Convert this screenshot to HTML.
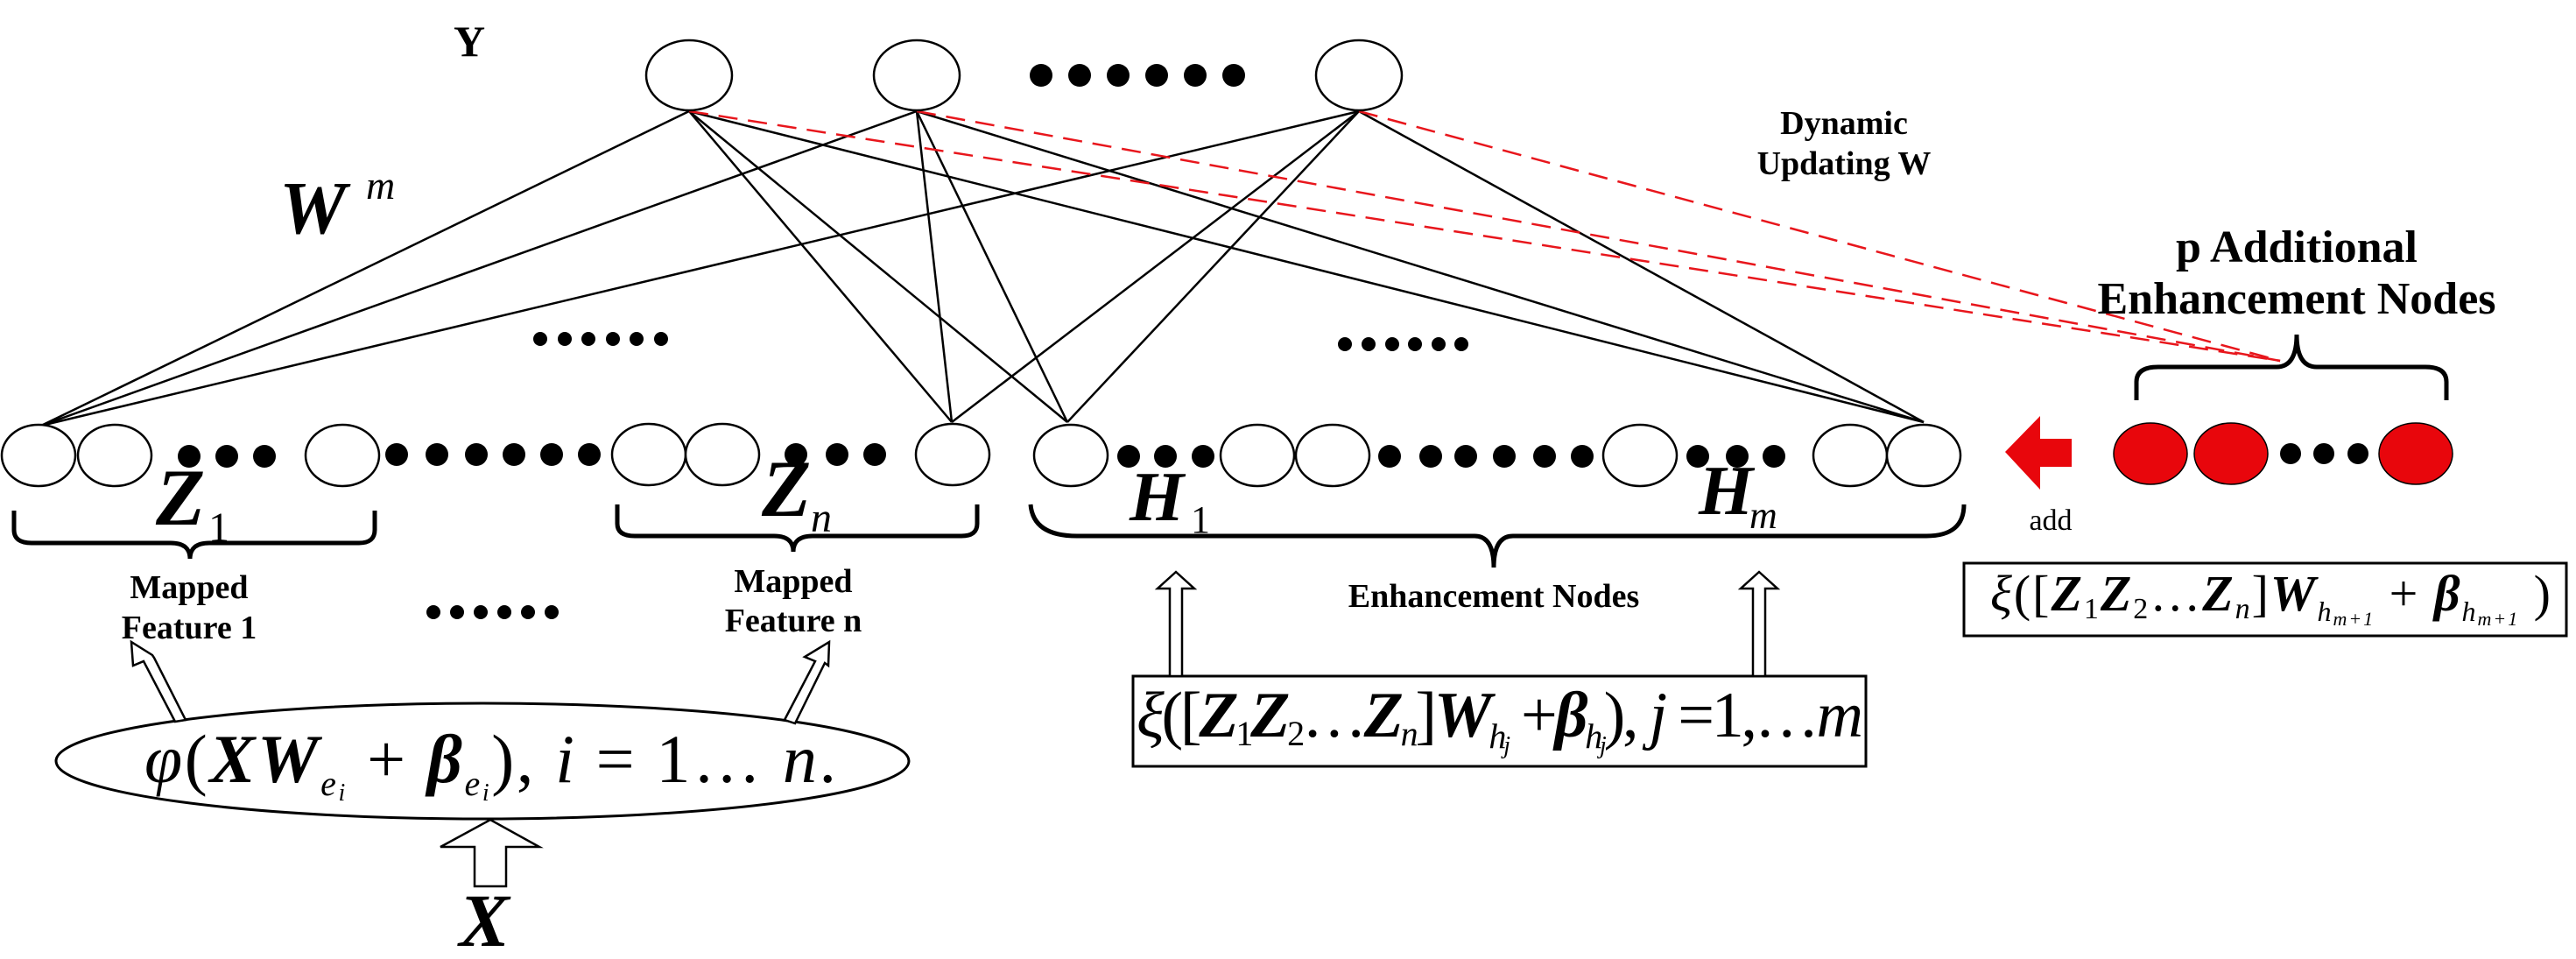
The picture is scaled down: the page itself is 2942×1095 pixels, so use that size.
<!DOCTYPE html>
<html><head><meta charset="utf-8"><style>
html,body{margin:0;padding:0;background:#fff;overflow:hidden}
svg{display:block}
text{font-family:"Liberation Serif",serif}
</style></head><body>
<svg width="2942" height="1095" viewBox="0 0 2942 1095" xmlns="http://www.w3.org/2000/svg">
<g stroke="#000" stroke-width="2.5" fill="none">
<line x1="787" y1="127" x2="47" y2="486"/>
<line x1="787" y1="127" x2="1087" y2="482"/>
<line x1="787" y1="127" x2="1219" y2="482"/>
<line x1="787" y1="127" x2="2197" y2="482"/>
<line x1="1047" y1="127" x2="47" y2="486"/>
<line x1="1047" y1="127" x2="1087" y2="482"/>
<line x1="1047" y1="127" x2="1219" y2="482"/>
<line x1="1047" y1="127" x2="2197" y2="482"/>
<line x1="1552" y1="127" x2="47" y2="486"/>
<line x1="1552" y1="127" x2="1087" y2="482"/>
<line x1="1552" y1="127" x2="1219" y2="482"/>
<line x1="1552" y1="127" x2="2197" y2="482"/>
</g>
<g stroke="#e8161c" stroke-width="2.5" fill="none" stroke-dasharray="22,12">
<line x1="787" y1="127" x2="2604" y2="412"/>
<line x1="1047" y1="127" x2="2604" y2="412"/>
<line x1="1552" y1="127" x2="2604" y2="412"/>
</g>
<g stroke="#000" stroke-width="2.5" fill="#fff">
<ellipse cx="787" cy="86" rx="49" ry="40"/>
<ellipse cx="1047" cy="86" rx="49" ry="40"/>
<ellipse cx="1552" cy="86" rx="49" ry="40"/>
</g>
<g fill="#000">
<circle cx="1189" cy="86" r="13"/><circle cx="1233" cy="86" r="13"/><circle cx="1277" cy="86" r="13"/><circle cx="1321" cy="86" r="13"/><circle cx="1365" cy="86" r="13"/><circle cx="1409" cy="86" r="13"/>
</g>
<g stroke="#000" stroke-width="2.5" fill="#fff">
<ellipse cx="44" cy="520" rx="42" ry="35"/>
<ellipse cx="131" cy="520" rx="42" ry="35"/>
<ellipse cx="391" cy="520" rx="42" ry="35"/>
<ellipse cx="741" cy="519" rx="42" ry="35"/>
<ellipse cx="825" cy="519" rx="42" ry="35"/>
<ellipse cx="1088" cy="519" rx="42" ry="35"/>
<ellipse cx="1223" cy="520" rx="42" ry="35"/>
<ellipse cx="1436" cy="520" rx="42" ry="35"/>
<ellipse cx="1522" cy="520" rx="42" ry="35"/>
<ellipse cx="1873" cy="520" rx="42" ry="35"/>
<ellipse cx="2113" cy="520" rx="42" ry="35"/>
<ellipse cx="2197" cy="520" rx="42" ry="35"/>
</g>
<g fill="#000">
<circle cx="216" cy="521" r="13"/><circle cx="259" cy="521" r="13"/><circle cx="302" cy="521" r="13"/>
<circle cx="453" cy="519" r="13"/><circle cx="499" cy="519" r="13"/><circle cx="544" cy="519" r="13"/><circle cx="587" cy="519" r="13"/><circle cx="630" cy="519" r="13"/><circle cx="673" cy="519" r="13"/>
<circle cx="909" cy="519" r="13"/><circle cx="956" cy="519" r="13"/><circle cx="999" cy="519" r="13"/>
<circle cx="1289" cy="521" r="13"/><circle cx="1331" cy="521" r="13"/><circle cx="1374" cy="521" r="13"/>
<circle cx="1587" cy="521" r="13"/><circle cx="1634" cy="521" r="13"/><circle cx="1674" cy="521" r="13"/><circle cx="1718" cy="521" r="13"/><circle cx="1764" cy="521" r="13"/><circle cx="1807" cy="521" r="13"/>
<circle cx="1939" cy="521" r="13"/><circle cx="1984" cy="521" r="13"/><circle cx="2026" cy="521" r="13"/>
<circle cx="617" cy="387" r="8"/><circle cx="645" cy="387" r="8"/><circle cx="672" cy="387" r="8"/><circle cx="700" cy="387" r="8"/><circle cx="727" cy="387" r="8"/><circle cx="755" cy="387" r="8"/>
<circle cx="1536" cy="393" r="8"/><circle cx="1563" cy="393" r="8"/><circle cx="1590" cy="393" r="8"/><circle cx="1616" cy="393" r="8"/><circle cx="1643" cy="393" r="8"/><circle cx="1669" cy="393" r="8"/>
<circle cx="495" cy="699" r="8"/><circle cx="522" cy="699" r="8"/><circle cx="549" cy="699" r="8"/><circle cx="576" cy="699" r="8"/><circle cx="603" cy="699" r="8"/><circle cx="630" cy="699" r="8"/>
</g>
<g fill="#e8060c" stroke="#000" stroke-width="1.5">
<ellipse cx="2456" cy="518" rx="42" ry="35"/>
<ellipse cx="2548" cy="518" rx="42" ry="35"/>
<ellipse cx="2759" cy="518" rx="42" ry="35"/>
</g>
<g fill="#000"><circle cx="2616" cy="518" r="12"/><circle cx="2654" cy="518" r="12"/><circle cx="2693" cy="518" r="12"/></g>
<polygon points="2290,516 2330,475 2330,501 2366,501 2366,533 2330,533 2330,559" fill="#e8060c"/>
<g stroke="#000" stroke-width="5" fill="none">
<path d="M16,583 V605 Q16,620 36,620 H195 Q217,620 217,638 Q217,620 239,620 H410 Q428,620 428,605 V583"/>
<path d="M705,576 V598 Q705,612 725,612 H884 Q906,612 906,630 Q906,612 928,612 H1098 Q1116,612 1116,598 V576"/>
<path d="M1177,576 Q1180,612 1230,612 H1684 Q1706,612 1706,648 Q1706,612 1728,612 H2200 Q2243,612 2243,576"/>
<path d="M2440,457 V436 Q2440,419 2465,419 H2600 Q2623,419 2623,382 Q2623,419 2646,419 H2770 Q2794,419 2794,436 V457"/>
</g>
<g stroke="#000" stroke-width="3" fill="none">
<rect x="1294" y="772" width="837" height="103"/>
<rect x="2243" y="643" width="688" height="83"/>
<ellipse cx="551" cy="869" rx="487" ry="66"/>
</g>
<g stroke="#000" stroke-width="2.5" fill="#fff">
<polygon points="1336,772 1336,672 1322,672 1343,653 1364,672 1350,672 1350,772"/>
<polygon points="2002,772 2002,672 1988,672 2009,653 2030,672 2016,672 2016,772"/>
<polygon points="542,1012 542,967 503,967 560,936 616,967 578,967 578,1012"/>
<polygon points="200,824 164,755 152,760 150,733 174,748 176,751 212,822"/>
<polygon points="896,822 931,755 919,750 947,733 946,760 942,757 908,826"/>
</g>
<g font-weight="bold" fill="#000">
<text x="536" y="64" font-size="50" text-anchor="middle">Y</text>
<text x="319" y="266" font-size="86" font-style="italic">W</text>
<text x="418" y="227" font-size="46" font-style="italic" font-weight="normal">m</text>
<text x="178" y="599" font-size="92" font-style="italic">Z</text>
<text x="238" y="618" font-size="48" font-weight="normal">1</text>
<text x="870" y="589" font-size="92" font-style="italic">Z</text>
<text x="926" y="607" font-size="48" font-style="italic" font-weight="normal">n</text>
<text x="1290" y="594" font-size="80" font-style="italic">H</text>
<text x="1360" y="608" font-size="44" font-weight="normal">1</text>
<text x="1940" y="587" font-size="80" font-style="italic">H</text>
<text x="1998" y="603" font-size="44" font-style="italic" font-weight="normal">m</text>
<text x="216" y="683" font-size="38" text-anchor="middle">Mapped</text>
<text x="216" y="729" font-size="38" text-anchor="middle">Feature 1</text>
<text x="906" y="676" font-size="38" text-anchor="middle">Mapped</text>
<text x="906" y="721" font-size="38" text-anchor="middle">Feature n</text>
<text x="1706" y="693" font-size="38" text-anchor="middle">Enhancement Nodes</text>
<text x="2106" y="153" font-size="38" text-anchor="middle">Dynamic</text>
<text x="2106" y="199" font-size="38" text-anchor="middle">Updating W</text>
<text x="2623" y="299" font-size="52" text-anchor="middle">p Additional</text>
<text x="2623" y="358" font-size="52" text-anchor="middle">Enhancement Nodes</text>
<text x="553" y="1080" font-size="86" font-style="italic" text-anchor="middle">X</text>
</g>
<text x="2342" y="605" font-size="34" text-anchor="middle">add</text>
<text x="165" y="893" font-size="78" font-style="italic" textLength="790">φ<tspan font-style="normal">(</tspan><tspan font-weight="bold">XW</tspan><tspan font-size="40" dy="15">e<tspan font-size="28" dy="6">i</tspan></tspan><tspan dy="-21" font-style="normal"> + </tspan><tspan font-weight="bold">β</tspan><tspan font-size="40" dy="15">e<tspan font-size="28" dy="6">i</tspan></tspan><tspan dy="-21" font-style="normal">), </tspan>i<tspan font-style="normal"> = 1… </tspan>n<tspan font-style="normal">.</tspan></text>
<text x="1298" y="841" font-size="74" font-style="italic" textLength="830">ξ<tspan font-style="normal">([</tspan><tspan font-weight="bold">Z</tspan><tspan font-size="40" dy="10" font-style="normal">1</tspan><tspan dy="-10" font-weight="bold">Z</tspan><tspan font-size="40" dy="10" font-style="normal">2</tspan><tspan dy="-10" font-style="normal">…</tspan><tspan font-weight="bold">Z</tspan><tspan font-size="40" dy="10">n</tspan><tspan dy="-10" font-style="normal">]</tspan><tspan font-weight="bold">W</tspan><tspan font-size="40" dy="13">h<tspan font-size="28" dy="6">j</tspan></tspan><tspan dy="-19" font-style="normal"> +</tspan><tspan font-weight="bold">β</tspan><tspan font-size="40" dy="13">h<tspan font-size="28" dy="6">j</tspan></tspan><tspan dy="-19" font-style="normal">), </tspan>j<tspan font-style="normal"> =1,…</tspan>m</text>
<text x="2273" y="697" font-size="58" font-style="italic" textLength="640">ξ<tspan font-style="normal">([</tspan><tspan font-weight="bold">Z</tspan><tspan font-size="34" dy="9" font-style="normal">1</tspan><tspan dy="-9" font-weight="bold">Z</tspan><tspan font-size="34" dy="9" font-style="normal">2</tspan><tspan dy="-9" font-style="normal">…</tspan><tspan font-weight="bold">Z</tspan><tspan font-size="34" dy="9">n</tspan><tspan dy="-9" font-style="normal">]</tspan><tspan font-weight="bold">W</tspan><tspan font-size="32" dy="12">h<tspan font-size="22" dy="5">m+1</tspan></tspan><tspan dy="-17" font-style="normal"> + </tspan><tspan font-weight="bold">β</tspan><tspan font-size="32" dy="12">h<tspan font-size="22" dy="5">m+1</tspan></tspan><tspan dy="-17" font-style="normal"> )</tspan></text>
</svg>
</body></html>
